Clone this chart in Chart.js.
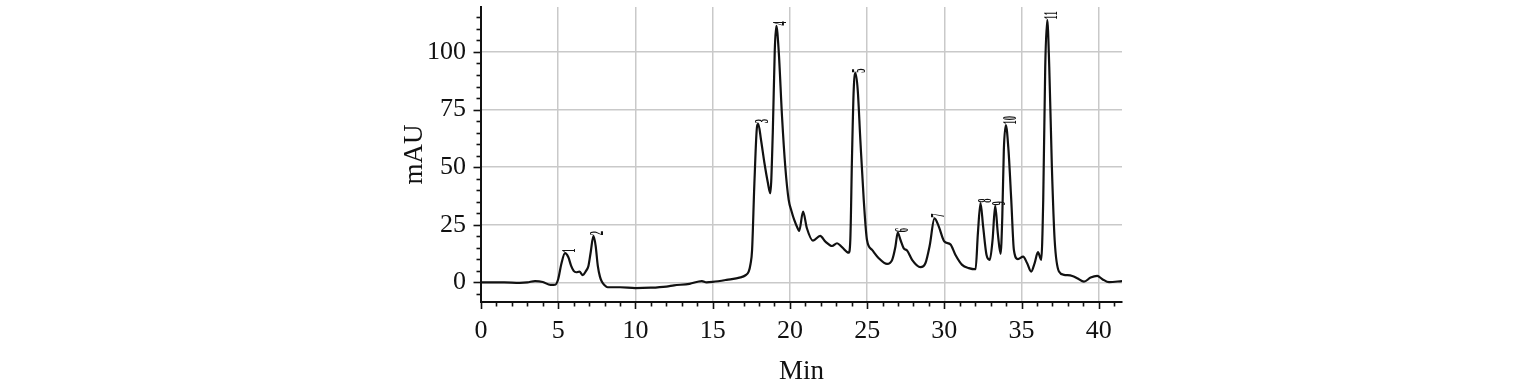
<!DOCTYPE html>
<html>
<head>
<meta charset="utf-8">
<script src="https://cdn.jsdelivr.net/npm/chart.js@4/dist/chart.umd.min.js"></script>
<style>
  html, body { margin: 0; padding: 0; background: #ffffff; }
  #wrap { width: 1520px; height: 385px; }
</style>
</head>
<body>
<div id="wrap"><canvas id="c" width="1520" height="385"></canvas></div>
<script>
// ---- Data (retention time in min, absorbance in mAU) ----
const times = [0, 1.5, 2.5, 3.0, 3.5, 4.0, 4.5, 4.8, 5.0, 5.2, 5.44, 5.65, 5.83, 6.0, 6.16, 6.37, 6.59, 6.8, 6.95, 7.1, 7.28, 7.42, 7.56, 7.7, 7.82, 8.0, 8.2, 9.0, 10.0, 11.0, 12.0, 12.5, 13.5, 14.3, 14.6, 15.0, 15.9, 16.8, 17.1, 17.33, 17.45, 17.55, 17.7, 17.87, 17.95, 18.13, 18.35, 18.56, 18.73, 18.89, 19.02, 19.12, 19.27, 19.49, 19.7, 19.92, 20.1, 20.28, 20.5, 20.6, 20.85, 21.1, 21.49, 21.96, 22.3, 22.73, 23.05, 23.37, 23.81, 23.91, 24.02, 24.13, 24.24, 24.39, 24.56, 24.78, 24.99, 25.32, 25.75, 26.29, 26.62, 26.83, 26.98, 27.16, 27.37, 27.59, 27.91, 28.45, 28.77, 29.05, 29.36, 29.64, 30.0, 30.39, 30.72, 31.15, 31.58, 32.02, 32.17, 32.34, 32.51, 32.73, 32.94, 33.12, 33.29, 33.46, 33.64, 33.75, 33.85, 33.98, 34.15, 34.33, 34.5, 34.76, 35.1, 35.36, 35.62, 35.84, 36.06, 36.27, 36.4, 36.53, 36.66, 36.79, 36.96, 37.14, 37.42, 37.74, 38.28, 38.6, 39.04, 39.47, 39.9, 40.23, 40.66, 41.5];
const mAU = [0, 0, -0.2, 0, 0.6, 0.2, -1.1, -1.0, 1.5, 8, 12.7, 11, 7.3, 5, 4.4, 4.7, 3.2, 5, 7, 13, 20.2, 16, 7.3, 2.5, 0.4, -1.2, -2.1, -2.1, -2.5, -2.3, -1.8, -1.3, -0.6, 0.6, 0, 0.2, 1.1, 2.2, 3.0, 4.7, 8, 14, 43, 67.6, 68.8, 61.8, 51.8, 43.7, 38.7, 64.7, 100.9, 111.3, 100.9, 71.9, 50.2, 35.8, 31, 27.1, 23.5, 22.3, 30.7, 23.5, 18.1, 20.2, 17.7, 15.8, 17.0, 15.3, 12.9, 18.4, 54.6, 83.5, 90.8, 83.5, 61.8, 35.8, 18.4, 14.1, 10.5, 8.0, 9.8, 15.5, 21.6, 18.4, 14.8, 13.8, 9.8, 6.6, 8.3, 16, 27.8, 24.2, 17.7, 16.5, 11.9, 7.6, 6.2, 5.7, 21.3, 34.4, 24.2, 11.9, 9.8, 18.4, 33.2, 21.3, 12.4, 28.5, 57.5, 68.3, 57.5, 35.8, 14.1, 10.1, 11.2, 8.3, 4.7, 8.3, 13.1, 9.8, 35.8, 93.6, 113.9, 93.6, 50.2, 18.4, 4.7, 3.3, 2.8, 1.8, 0.3, 2.1, 2.8, 1.4, 0.1, 0.6];

// Peak annotations
const peakLabels = ['1', '2', '3', '4', '5', '6', '7', '8', '9', '10', '11'];
const peakTimes = [5.44, 7.28, 17.95, 19.12, 24.24, 26.98, 29.36, 32.34, 33.29, 33.98, 36.66];
const peakHeights = [12.7, 20.2, 68.8, 111.3, 90.8, 21.6, 27.8, 34.4, 33.2, 68.3, 113.9];

// Axis settings
const xMin = 0, xMax = 41.5, xMinorStep = 1, xMajorStep = 5;
const yMin = -8.5, yMax = 119.5, yMinorStep = 5, yMajorStep = 25;
const xTitle = 'Min';
const yTitle = 'mAU';

const FONT = "'Liberation Serif', 'Times New Roman', serif";
const INK = '#111111';
const GRID = '#c9c9c9';

const isMult = (v, s) => Math.abs(v / s - Math.round(v / s)) < 1e-6;

// Minor/major tick marks drawn through the scales
const tickMarks = {
  id: 'tickMarks',
  afterDraw(chart) {
    const {ctx, scales: {x, y}} = chart;
    ctx.save();
    ctx.strokeStyle = INK;
    ctx.lineWidth = 1.6;
    const axisY = y.getPixelForValue(yMin);
    for (let v = xMin; v <= xMax + 1e-9; v += xMinorStep) {
      const px = Math.round(x.getPixelForValue(v)) + 0.5;
      const len = isMult(v, xMajorStep) ? 7 : 4.5;
      ctx.beginPath();
      ctx.moveTo(px, axisY);
      ctx.lineTo(px, axisY + len);
      ctx.stroke();
    }
    const axisX = x.getPixelForValue(xMin);
    const startY = Math.ceil(yMin / yMinorStep) * yMinorStep;
    for (let v = startY; v <= yMax + 1e-9; v += yMinorStep) {
      const py = Math.round(y.getPixelForValue(v)) + 0.5;
      const len = isMult(v, yMajorStep) ? 7.5 : 4.5;
      ctx.beginPath();
      ctx.moveTo(axisX, py);
      ctx.lineTo(axisX - len, py);
      ctx.stroke();
    }
    ctx.restore();
  }
};

// Rotated, condensed peak numbers at each apex
const peakTags = {
  id: 'peakTags',
  afterDatasetsDraw(chart) {
    const {ctx, scales: {x, y}} = chart;
    ctx.save();
    ctx.fillStyle = INK;
    ctx.font = "bold 19px " + FONT;
    ctx.textAlign = 'left';
    ctx.textBaseline = 'alphabetic';
    peakLabels.forEach((lab, i) => {
      const px = x.getPixelForValue(peakTimes[i]);
      const py = y.getPixelForValue(peakHeights[i]);
      ctx.save();
      ctx.translate(px + 10, py - 0.5);
      ctx.rotate(-Math.PI / 2);
      ctx.scale(0.45, 1);
      ctx.fillText(lab, 0, 0);
      ctx.restore();
    });
    ctx.restore();
  }
};

new Chart(document.getElementById('c'), {
  type: 'line',
  data: {
    datasets: [{
      data: times.map((t, i) => ({x: t, y: mAU[i]})),
      borderColor: INK,
      borderWidth: 2.2,
      pointRadius: 0,
      fill: false,
      cubicInterpolationMode: 'monotone'
    }]
  },
  plugins: [tickMarks, peakTags],
  options: {
    responsive: false,
    animation: false,
    devicePixelRatio: 1,
    layout: { padding: { left: 0, right: 398, top: 7, bottom: 0 } },
    plugins: { legend: { display: false }, tooltip: { enabled: false } },
    scales: {
      x: {
        type: 'linear',
        min: xMin, max: xMax,
        afterFit(scale) { scale.height = 83; scale.paddingLeft = 0; scale.paddingRight = 0; },
        border: { display: true, color: INK, width: 2 },
        grid: {
          color: (c) => (c.tick && isMult(c.tick.value, xMajorStep) && c.tick.value !== 0) ? GRID : 'rgba(0,0,0,0)',
          lineWidth: 1.5,
          drawTicks: true,
          tickLength: 8,
          tickColor: 'rgba(0,0,0,0)'
        },
        ticks: {
          stepSize: xMinorStep,
          autoSkip: false,
          maxRotation: 0,
          padding: 6,
          color: INK,
          font: { family: FONT, size: 26 },
          callback: (v) => isMult(v, xMajorStep) ? String(Math.round(v)) : ''
        },
        title: {
          display: true, text: xTitle, color: INK,
          font: { family: FONT, size: 27, lineHeight: 1 },
          padding: { top: 0, bottom: 0 }
        }
      },
      y: {
        type: 'linear',
        min: yMin, max: yMax,
        afterFit(scale) { scale.width = 481; scale.paddingTop = 0; scale.paddingBottom = 0; },
        border: { display: true, color: INK, width: 2 },
        grid: {
          color: (c) => (c.tick && isMult(c.tick.value, yMajorStep)) ? GRID : 'rgba(0,0,0,0)',
          lineWidth: 1.5,
          drawTicks: true,
          tickLength: 8,
          tickColor: 'rgba(0,0,0,0)'
        },
        ticks: {
          stepSize: yMinorStep,
          autoSkip: false,
          padding: 7,
          color: INK,
          font: { family: FONT, size: 26 },
          callback: (v) => isMult(v, yMajorStep) ? String(Math.round(v)) : ''
        },
        title: {
          display: true, text: yTitle, color: INK,
          font: { family: FONT, size: 27, lineHeight: 1 },
          padding: { top: 401, bottom: 0 }
        }
      }
    }
  }
});
</script>
</body>
</html>
